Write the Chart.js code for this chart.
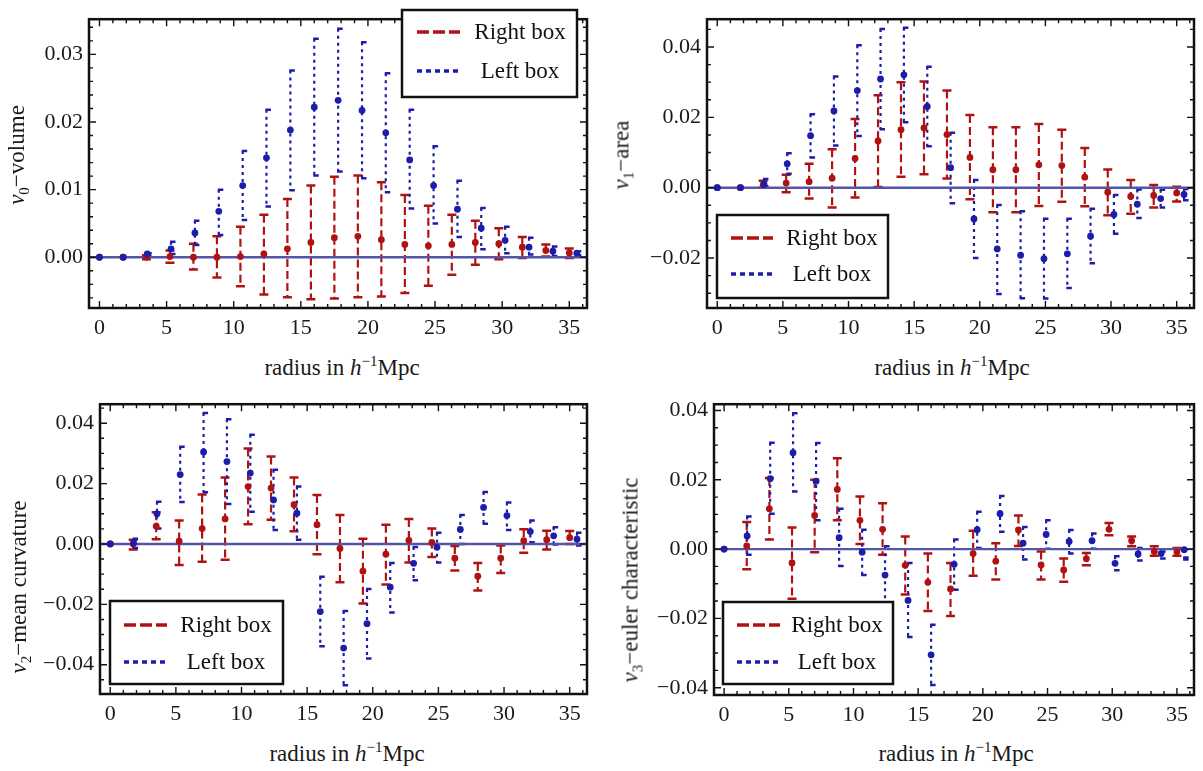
<!DOCTYPE html>
<html>
<head>
<meta charset="utf-8">
<script src="https://cdn.jsdelivr.net/npm/chart.js@4.4.1/dist/chart.umd.min.js"></script>
<style>
  body { margin: 0; background: #fff; width: 1203px; height: 771px; position: relative; overflow: hidden; font-family: "Liberation Serif", serif; }
  canvas { position: absolute; }
  .ttl { position: absolute; font-size: 23px; white-space: nowrap; color: #1a1a1a; transform: translate(-50%, -50%); line-height: 1; }
  .ytl { transform: translate(-50%, -50%) rotate(-90deg); }
  .ttl sub { font-size: 15px; vertical-align: -5px; }
  .ttl sup { font-size: 15px; vertical-align: 9px; }
</style>
</head>
<body>
<canvas id="c0" width="600" height="345" style="left:0;top:0"></canvas>
<canvas id="c1" width="603" height="345" style="left:600px;top:0"></canvas>
<canvas id="c2" width="600" height="345" style="left:0;top:385px"></canvas>
<canvas id="c3" width="603" height="345" style="left:600px;top:385px"></canvas>

<div class="ttl ytl" style="left:18px;top:155px"><i>ν</i><sub>0</sub>−volume</div>
<div class="ttl ytl" style="left:623px;top:155px"><i>ν</i><sub>1</sub>−area</div>
<div class="ttl ytl" style="left:20px;top:587px"><i>ν</i><sub>2</sub>−mean curvature</div>
<div class="ttl ytl" style="left:632px;top:580px"><i>ν</i><sub>3</sub>−euler characteristic</div>
<div class="ttl" style="left:342px;top:366px">radius in <i>h</i><sup>−1</sup>Mpc</div>
<div class="ttl" style="left:952px;top:366px">radius in <i>h</i><sup>−1</sup>Mpc</div>
<div class="ttl" style="left:347px;top:752px">radius in <i>h</i><sup>−1</sup>Mpc</div>
<div class="ttl" style="left:956px;top:752px">radius in <i>h</i><sup>−1</sup>Mpc</div>

<script>
// radii (right box and left box bins are slightly different)
const xRight = [0, 1.75, 3.5, 5.25, 7, 8.75, 10.5, 12.25, 14, 15.75, 17.5, 19.25, 21, 22.75, 24.5, 26.25, 28, 29.75, 31.5, 33.25, 35];
const xLeft = [0, 1.78, 3.56, 5.33, 7.11, 8.89, 10.67, 12.44, 14.22, 16, 17.78, 19.56, 21.33, 23.11, 24.89, 26.67, 28.44, 30.22, 32, 33.78, 35.56];
const xTicks = [0, 5, 10, 15, 20, 25, 30, 35];
const seriesLabels = ['Right box', 'Left box'];

// v0 - volume
const volRight = [0, 0, 0, 0.0001, 0, 0, 0.0001, 0.0005, 0.00125, 0.0022, 0.0029, 0.0031, 0.0026, 0.0019, 0.0017, 0.0019, 0.0022, 0.002, 0.0015, 0.001, 0.00065];
const volRightLo = [0, 0, -0.0003, -0.0008, -0.0018, -0.003, -0.0043, -0.0055, -0.0059, -0.0062, -0.0061, -0.0059, -0.0058, -0.0053, -0.0042, -0.0026, -0.0011, -0.0003, -0.0001, 0.0001, -0.0001];
const volRightHi = [0, 0, 0.0003, 0.001, 0.002, 0.0031, 0.0045, 0.0063, 0.0086, 0.0106, 0.0119, 0.0121, 0.0111, 0.0092, 0.0076, 0.0063, 0.0054, 0.0043, 0.003, 0.0019, 0.0013];
const volLeft = [0, 0, 0.0005, 0.00125, 0.0036, 0.0068, 0.0106, 0.0147, 0.0188, 0.0222, 0.0232, 0.0217, 0.0184, 0.0144, 0.0106, 0.0071, 0.0043, 0.0025, 0.0015, 0.0009, 0.0006];
const volLeftLo = [0, 0, 0.0001, 0.0005, 0.0018, 0.0033, 0.0055, 0.0075, 0.0099, 0.0121, 0.0127, 0.0117, 0.0096, 0.0072, 0.005, 0.003, 0.0012, 0.0006, 0.0004, 0.0002, 0.0003];
const volLeftHi = [0, 0, 0.0006, 0.0023, 0.0054, 0.01, 0.0157, 0.0218, 0.0276, 0.0323, 0.0338, 0.0318, 0.0272, 0.0218, 0.0164, 0.0113, 0.0073, 0.0045, 0.0029, 0.0016, 0.0009];

// v1 - area
const areaRight = [0, 0, 0.0008, 0.0013, 0.0017, 0.0027, 0.0083, 0.0133, 0.0165, 0.017, 0.0151, 0.0086, 0.0051, 0.0051, 0.0065, 0.0063, 0.003, -0.0013, -0.0025, -0.0022, -0.0015];
const areaRightLo = [0, 0, 0, -0.0013, -0.0031, -0.0056, -0.0028, 0.0002, 0.0031, 0.0038, 0.0026, -0.0033, -0.007, -0.007, -0.0052, -0.004, -0.0053, -0.0078, -0.0074, -0.0056, -0.0039];
const areaRightHi = [0, 0, 0.002, 0.0037, 0.0068, 0.0109, 0.0195, 0.0263, 0.03, 0.0302, 0.0276, 0.0207, 0.0172, 0.0172, 0.0181, 0.0165, 0.0113, 0.0052, 0.0022, 0.0008, 0.0003];
const areaLeft = [0, 0, 0.001, 0.0068, 0.0148, 0.0218, 0.0276, 0.0309, 0.0321, 0.0231, 0.0057, -0.0089, -0.0174, -0.0192, -0.0202, -0.0188, -0.0138, -0.0076, -0.0047, -0.0031, -0.0019];
const areaLeftLo = [0, 0, 0.0004, 0.004, 0.0086, 0.012, 0.0147, 0.0166, 0.0186, 0.0118, -0.0044, -0.02, -0.0302, -0.0314, -0.0315, -0.0285, -0.0215, -0.0131, -0.0086, -0.0056, -0.0036];
const areaLeftHi = [0, 0, 0.0025, 0.0098, 0.0209, 0.0316, 0.0405, 0.0451, 0.0455, 0.0344, 0.0156, 0.0022, -0.0049, -0.0067, -0.0088, -0.0088, -0.006, -0.0021, -0.0005, -0.0006, -0.0004];

// v2 - mean curvature
const curvRight = [0, 0, 0.0059, 0.0009, 0.0051, 0.0083, 0.019, 0.0185, 0.013, 0.0064, -0.0015, -0.009, -0.0034, 0.0012, 0.0005, -0.0047, -0.0107, -0.0047, 0.0011, 0.0014, 0.0021];
const curvRightLo = [0, -0.0018, 0.0016, -0.007, -0.0059, -0.0052, 0.0065, 0.008, 0.0042, -0.0034, -0.0127, -0.0197, -0.0134, -0.0061, -0.0043, -0.0088, -0.0154, -0.0096, -0.0029, -0.0018, 0];
const curvRightHi = [0, 0.0014, 0.0105, 0.0078, 0.0164, 0.022, 0.0316, 0.029, 0.022, 0.0162, 0.0096, 0.0017, 0.0064, 0.0083, 0.0051, -0.0007, -0.0063, -0.0005, 0.0049, 0.0044, 0.0043];
const curvLeft = [0, 0.0003, 0.01, 0.023, 0.0305, 0.0273, 0.0235, 0.0146, 0.0102, -0.0224, -0.0345, -0.0264, -0.0143, -0.0064, -0.0011, 0.0048, 0.0121, 0.0094, 0.0041, 0.0027, 0.0016];
const curvLeftLo = [0, -0.0013, 0.0051, 0.0139, 0.0171, 0.0132, 0.0107, 0.0046, 0.0014, -0.0339, -0.0468, -0.0379, -0.0227, -0.012, -0.0061, 0, 0.0067, 0.0046, 0.0006, -0.0002, -0.0005];
const curvLeftHi = [0, 0.0017, 0.014, 0.0322, 0.0434, 0.0413, 0.0362, 0.0246, 0.019, -0.0109, -0.0222, -0.0149, -0.0063, -0.001, 0.0037, 0.0096, 0.0172, 0.0137, 0.0078, 0.0055, 0.0037];

// v3 - euler characteristic
const eulerRight = [0, 0.0009, 0.0116, -0.004, 0.0097, 0.0172, 0.0083, 0.0057, -0.0047, -0.0096, -0.0115, -0.0013, -0.0035, 0.0055, -0.0046, -0.006, -0.0028, 0.0057, 0.0024, -0.0007, -0.0008];
const eulerRightLo = [0, -0.0058, 0.0028, -0.0143, -0.0009, 0.0083, 0.0015, -0.0016, -0.0131, -0.0179, -0.0193, -0.0077, -0.0088, 0.0009, -0.0088, -0.0094, -0.0047, 0.004, 0.0008, -0.0019, -0.0019];
const eulerRightHi = [0, 0.0078, 0.0205, 0.0062, 0.02, 0.0262, 0.0152, 0.0132, 0.0036, -0.0013, -0.004, 0.0053, 0.0017, 0.0097, -0.0007, -0.0027, -0.0011, 0.0075, 0.0036, 0.0008, 0.0003];
const eulerLeft = [0, 0.0038, 0.0203, 0.0278, 0.0196, 0.0033, -0.0009, -0.0075, -0.0148, -0.0305, -0.0044, 0.0056, 0.0102, 0.0017, 0.0042, 0.0022, 0.0024, -0.0041, -0.0014, -0.0013, -0.0002];
const eulerLeftLo = [0, -0.0016, 0.0102, 0.0166, 0.0083, -0.0049, -0.0075, -0.016, -0.0254, -0.0392, -0.0117, 0.0003, 0.005, -0.003, 0.0001, -0.0013, 0.0001, -0.0061, -0.0033, -0.0027, -0.003];
const eulerLeftHi = [0, 0.0094, 0.0307, 0.0392, 0.0306, 0.0116, 0.0056, 0.0008, -0.004, -0.0218, 0.0028, 0.0108, 0.0153, 0.0064, 0.0083, 0.0055, 0.0045, -0.0021, 0.0003, -0.0007, -0.0024];

const yTicksVol = [0, 0.01, 0.02, 0.03];
const yTicksArea = [-0.02, 0, 0.02, 0.04];
const yTicksCurv = [-0.04, -0.02, 0, 0.02, 0.04];
const yTicksEuler = [-0.04, -0.02, 0, 0.02, 0.04];

const RED = '#b01212';
const BLUE = '#1d1dac';
const ZERO = '#5555a8';
const FONT = "'Liberation Serif', 'Times New Roman', serif";

// error bars + zero line, drawn under the points
const errorBars = {
  id: 'errorBars',
  beforeDatasetsDraw(chart) {
    const { ctx, chartArea, scales: { x, y } } = chart;
    ctx.save();
    ctx.beginPath();
    ctx.rect(chartArea.left, chartArea.top, chartArea.right - chartArea.left, chartArea.bottom - chartArea.top);
    ctx.clip();
    chart.data.datasets.forEach(ds => {
      ctx.strokeStyle = ds.borderColor;
      ds.data.forEach((p, i) => {
        const px = x.getPixelForValue(p.x);
        const lo = y.getPixelForValue(ds.errLo[i]);
        const hi = y.getPixelForValue(ds.errHi[i]);
        if (Math.abs(lo - hi) < 1) return;
        ctx.lineWidth = 2.2;
        ctx.setLineDash(ds.errDash);
        ctx.beginPath();
        ctx.moveTo(px, hi);
        ctx.lineTo(px, lo);
        ctx.stroke();
        ctx.setLineDash([]);
        ctx.lineWidth = 2.5;
        ctx.beginPath();
        ctx.moveTo(px + ds.capL, hi); ctx.lineTo(px + ds.capR, hi);
        ctx.moveTo(px + ds.capL, lo); ctx.lineTo(px + ds.capR, lo);
        ctx.stroke();
      });
    });
    const y0 = y.getPixelForValue(0);
    ctx.strokeStyle = ZERO;
    ctx.lineWidth = 2.4;
    ctx.beginPath();
    ctx.moveTo(chartArea.left, y0);
    ctx.lineTo(chartArea.right, y0);
    ctx.stroke();
    ctx.restore();
  }
};

// mathematica-style frame with inward ticks on all sides, plus the boxed legend
const frame = {
  id: 'frame',
  afterDraw(chart, args, opts) {
    const { ctx, chartArea: a, scales: { x, y } } = chart;
    ctx.save();
    ctx.strokeStyle = '#111';
    ctx.lineWidth = 1.4;
    const tick = (v, scale, len, horiz) => {
      const p = scale.getPixelForValue(v);
      ctx.beginPath();
      if (horiz) {
        ctx.moveTo(p, a.bottom); ctx.lineTo(p, a.bottom - len);
        ctx.moveTo(p, a.top); ctx.lineTo(p, a.top + len);
      } else {
        ctx.moveTo(a.left, p); ctx.lineTo(a.left + len, p);
        ctx.moveTo(a.right, p); ctx.lineTo(a.right - len, p);
      }
      ctx.stroke();
    };
    for (let v = Math.ceil(x.min); v <= x.max; v += 1) tick(v, x, v % 5 === 0 ? 7 : 4, true);
    const m = opts.minor;
    for (let k = Math.ceil(y.min / m - 1e-6); k * m <= y.max + 1e-9; k++) {
      const v = k * m;
      const major = opts.yTicks.some(t => Math.abs(t - v) < 1e-9);
      tick(v, y, major ? 7 : 4, false);
    }
    ctx.lineWidth = 2.5;
    ctx.strokeStyle = '#111';
    ctx.strokeRect(a.left, a.top, a.right - a.left, a.bottom - a.top);

    // legend
    const L = opts.legend;
    ctx.fillStyle = '#fff';
    ctx.fillRect(L.left, L.top, L.w, L.h);
    ctx.lineWidth = 2.5;
    ctx.strokeRect(L.left, L.top, L.w, L.h);
    const rows = [
      { color: RED, dash: [12, 4], y: L.top + L.r1 },
      { color: BLUE, dash: [5, 4], y: L.top + L.r2 }
    ];
    rows.forEach((r, i) => {
      ctx.strokeStyle = r.color;
      ctx.lineWidth = 3.5;
      ctx.setLineDash(r.dash);
      ctx.beginPath();
      ctx.moveTo(L.left + L.s1, r.y);
      ctx.lineTo(L.left + L.s2, r.y);
      ctx.stroke();
      ctx.setLineDash([]);
      ctx.fillStyle = '#111';
      ctx.font = '23px ' + FONT;
      ctx.textAlign = 'center';
      ctx.textBaseline = 'middle';
      ctx.fillText(seriesLabels[i], L.left + L.tx, r.y + 1);
    });
    ctx.restore();
  }
};

const fmt = v => {
  if (Math.abs(v) < 1e-9) return '0.00';
  return (v < 0 ? '\u2212' : '') + Math.abs(v).toFixed(2);
};

const panels = [
  { id: 'c0', right: volRight, rightLo: volRightLo, rightHi: volRightHi, left: volLeft, leftLo: volLeftLo, leftHi: volLeftHi,
    yMin: -0.0075, yMax: 0.0352, yTicks: yTicksVol, minor: 0.002,
    pad: { top: 1, right: 13, left: 0, bottom: 0 }, yw: 89, xh: 37,
    legend: { left: 402, top: 10, w: 175, h: 87, r1: 22, r2: 61, s1: 15, s2: 58, tx: 118 } },
  { id: 'c1', right: areaRight, rightLo: areaRightLo, rightHi: areaRightHi, left: areaLeft, leftLo: areaLeftLo, leftHi: areaLeftHi,
    yMin: -0.0342, yMax: 0.0479, yTicks: yTicksArea, minor: 0.005,
    pad: { top: 8, right: 9, left: 0, bottom: 0 }, yw: 107, xh: 37,
    legend: { left: 117, top: 215, w: 171, h: 83, r1: 23, r2: 59, s1: 14, s2: 56, tx: 115 } },
  { id: 'c2', right: curvRight, rightLo: curvRightLo, rightHi: curvRightHi, left: curvLeft, leftLo: curvLeftLo, leftHi: curvLeftHi,
    yMin: -0.0497, yMax: 0.0463, yTicks: yTicksCurv, minor: 0.005,
    pad: { top: 10, right: 13, left: 0, bottom: 0 }, yw: 100, xh: 36,
    legend: { left: 110, top: 216, w: 173, h: 83, r1: 24, r2: 61, s1: 14, s2: 57, tx: 116 } },
  { id: 'c3', right: eulerRight, rightLo: eulerRightLo, rightHi: eulerRightHi, left: eulerLeft, leftLo: eulerLeftLo, leftHi: eulerLeftHi,
    yMin: -0.0421, yMax: 0.0418, yTicks: yTicksEuler, minor: 0.005,
    pad: { top: 13, right: 9, left: 0, bottom: 0 }, yw: 114, xh: 35,
    legend: { left: 123, top: 217, w: 170, h: 82, r1: 23, r2: 60, s1: 14, s2: 57, tx: 114 } }
];

panels.forEach(p => {
  const ctx = document.getElementById(p.id).getContext('2d');
  new Chart(ctx, {
    type: 'scatter',
    data: {
      datasets: [
        { label: seriesLabels[0], data: xRight.map((x, i) => ({ x, y: p.right[i] })), order: 1,
          errLo: p.rightLo, errHi: p.rightHi, errDash: [8, 4], capL: -4.5, capR: 4.5,
          borderColor: RED, backgroundColor: RED, pointRadius: 3.4, pointBorderWidth: 0 },
        { label: seriesLabels[1], data: xLeft.map((x, i) => ({ x, y: p.left[i] })), order: 0,
          errLo: p.leftLo, errHi: p.leftHi, errDash: [3, 4], capL: -1, capR: 4.5,
          borderColor: BLUE, backgroundColor: BLUE, pointRadius: 3.4, pointBorderWidth: 0 }
      ]
    },
    options: {
      responsive: false,
      animation: false,
      layout: { padding: p.pad },
      plugins: {
        legend: { display: false },
        tooltip: { enabled: false },
        frame: { legend: p.legend, yTicks: p.yTicks, minor: p.minor }
      },
      scales: {
        x: {
          type: 'linear', min: -0.78, max: 36.32,
          grid: { display: false, drawTicks: false },
          border: { display: false },
          afterBuildTicks: s => { s.ticks = xTicks.map(v => ({ value: v })); },
          afterFit: s => { s.height = p.xh; },
          ticks: { padding: 7, color: '#1a1a1a', font: { family: FONT, size: 22 }, maxRotation: 0 }
        },
        y: {
          type: 'linear', min: p.yMin, max: p.yMax,
          grid: { display: false, drawTicks: false },
          border: { display: false },
          afterBuildTicks: s => { s.ticks = p.yTicks.map(v => ({ value: v })); },
          afterFit: s => { s.width = p.yw; },
          ticks: { padding: 6, color: '#1a1a1a', font: { family: FONT, size: 22 }, callback: fmt }
        }
      }
    },
    plugins: [errorBars, frame]
  });
});
</script>
</body>
</html>
